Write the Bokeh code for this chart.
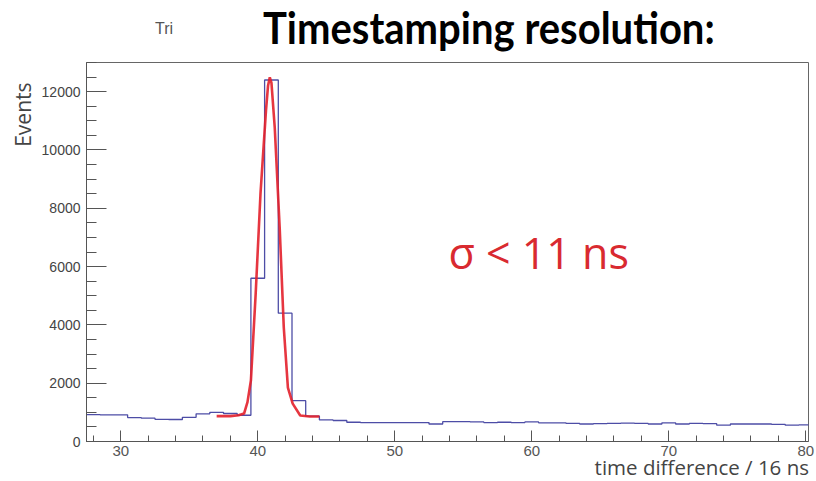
from bokeh.plotting import figure
from bokeh.models import Range1d, Label, FixedTicker, Title, Div
from bokeh.layouts import column
from bokeh.embed import file_html
from bokeh.resources import INLINE

# ---- data ----
bin_centers = list(range(28, 81))
bin_counts = [920, 910, 915, 820, 800, 760, 755, 830, 950, 1000,
              960, 900, 5600, 12400, 4400, 1400, 870, 740, 720, 660,
              650, 650, 650, 645, 650, 600, 680, 680, 670, 650,
              660, 650, 670, 640, 640, 620, 600, 610, 620, 630,
              620, 600, 640, 600, 620, 610, 560, 600, 600, 600,
              590, 560, 570]
bin_width = 1.0

fit_x = [37.0, 38.0, 38.6, 39.0, 39.25, 39.5, 39.85, 40.2, 40.6, 40.75, 40.88,
         41.0, 41.24, 41.6, 41.9, 42.2, 42.55, 43.1, 43.8, 44.5]
fit_y = [870, 870, 900, 960, 1350, 2090, 5080, 8500, 11350, 12200, 12490,
         12300, 10770, 7340, 3910, 1850, 1300, 890, 860, 860]

x_ticks = [30, 40, 50, 60, 70, 80]
y_ticks = [0, 2000, 4000, 6000, 8000, 10000, 12000]

title_text = "Timestamping resolution:"
corner_text = "Tri"
sigma_text = "σ < 11 ns"
x_title = "time difference / 16 ns"
y_title = "Events"

X0, X1 = 27.5, 80.2
Y0, Y1 = 0, 13000
W, H = 816, 481
FL, FR, FT, FB = 86, 808, 62, 441   # frame edges in pixels

p = figure(width=W, height=H, output_backend="svg", toolbar_location=None,
           title=None,
           x_range=Range1d(X0, X1), y_range=Range1d(Y0, Y1),
           min_border_left=FL, min_border_right=W - FR, min_border_top=FT,
           min_border_bottom=H - FB)
p.background_fill_color = "white"
p.border_fill_color = "white"
p.outline_line_color = "#666666"
p.outline_line_width = 1
p.grid.visible = False

# histogram outline
edges_x = [c - bin_width / 2 for c in bin_centers] + [bin_centers[-1] + bin_width / 2]
edges_y = bin_counts + [bin_counts[-1]]
p.step(edges_x, edges_y, mode="after", line_color="#4d4da6", line_width=1.3)

# fit curve
p.line(fit_x, fit_y, line_color="#e3202b", line_width=2.6, line_alpha=0.9)

# axes
for ax in (p.xaxis[0], p.yaxis[0]):
    ax.axis_line_color = "#555555"
    ax.major_tick_line_color = "#555555"
    ax.minor_tick_line_color = "#555555"
    ax.major_tick_out = 0
    ax.minor_tick_out = 0
    ax.axis_label = None
    ax.major_label_text_font = "Liberation Sans"

p.xaxis.ticker = FixedTicker(ticks=x_ticks,
                             minor_ticks=[float(t) for t in range(28, 81, 2)])
p.xaxis.major_tick_in = 11
p.xaxis.minor_tick_in = 6
p.xaxis.major_label_text_font_size = "15px"
p.xaxis.major_label_text_color = "#555555"
p.xaxis.major_label_standoff = 4

p.yaxis.ticker = FixedTicker(ticks=y_ticks,
                             minor_ticks=list(range(0, 13001, 500)))
p.yaxis.major_tick_in = 20
p.yaxis.minor_tick_in = 10
p.yaxis.major_label_text_font_size = "14px"
p.yaxis.major_label_text_color = "#444444"
p.yaxis.major_label_standoff = 6

# y-axis title as a side-panel title (top aligned)
p.add_layout(Title(text=y_title, align="right", offset=20, text_font="Open Sans",
                   text_font_size="21px", text_font_style="normal",
                   text_color="#444444", standoff=4), "left")

def dx(px):
    return X0 + (px - FL) * (X1 - X0) / (FR - FL)
def dy(py):
    return Y0 + (FB - py) * (Y1 - Y0) / (FB - FT)

p.add_layout(Label(x=dx(448), y=dy(252), text=sigma_text, text_font="Open Sans",
                   text_font_size="43px", text_color="#d92a30",
                   text_align="left", text_baseline="alphabetic"))

# texts laid over the figure outside the plot frame
overlay = Div(width=W, height=H, margin=(-H, 0, 0, 0),
              text=('<div style="position:relative;width:%dpx;height:%dpx;pointer-events:none">'
                    '<div style="position:absolute;left:155px;top:20px;'
                    'font-family:\'Liberation Sans\';font-size:16px;line-height:18px;'
                    'color:#555555">%s</div>'
                    '<div style="position:absolute;left:263px;top:5px;white-space:nowrap;'
                    'font-family:\'Lato\';font-weight:bold;font-size:40px;line-height:40px;'
                    'color:#000000;transform-origin:0 0;transform:scale(1,1.1)">%s</div>'
                    '<div style="position:absolute;right:7px;top:457px;white-space:nowrap;'
                    'font-family:\'Open Sans\';font-size:20.5px;line-height:20px;'
                    'color:#444444">%s</div>'
                    '</div>') % (W, H, corner_text, title_text, x_title))

layout = column(p, overlay, spacing=0)
open("out.html", "w").write(file_html(layout, INLINE))
